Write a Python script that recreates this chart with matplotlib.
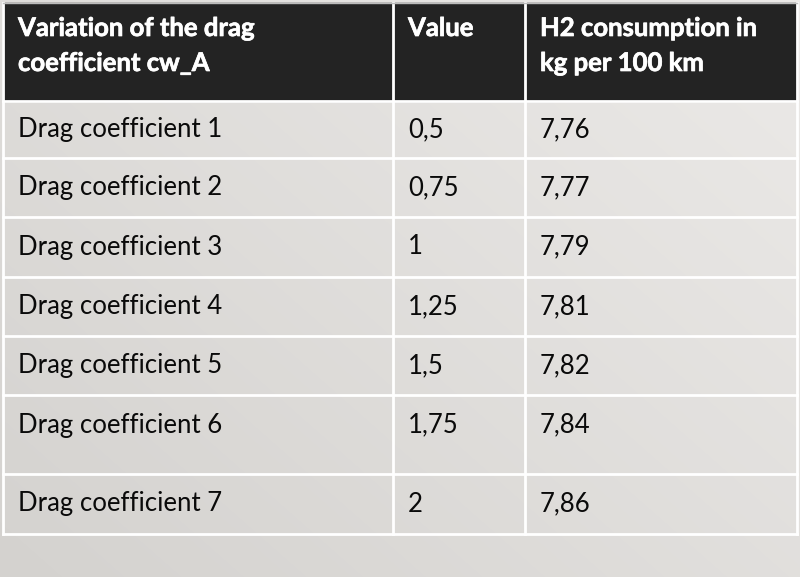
import matplotlib

matplotlib.use("Agg")

import matplotlib.pyplot as plt
import matplotlib.patheffects as pe
import numpy as np
from matplotlib.colors import LinearSegmentedColormap

# table content
headers = ["Variation of the drag\ncoefficient cw_A", "Value", "H2 consumption in\nkg per 100 km"]
labels = [f"Drag coefficient {i}" for i in range(1, 8)]
values = ["0,5", "0,75", "1", "1,25", "1,5", "1,75", "2"]
consumption = ["7,76", "7,77", "7,79", "7,81", "7,82", "7,84", "7,86"]

# layout in pixels
col_edges = [3, 393, 525, 797]
row_edges = [3, 101, 158, 217, 277, 336, 395, 474, 534]
text_pad = 15

W, H = 800, 577
plt.rcParams["font.family"] = ["Lato", "DejaVu Sans"]

fig = plt.figure(figsize=(W / 100, H / 100), dpi=100)
ax = fig.add_axes([0, 0, 1, 1])
ax.set_xlim(0, W)
ax.set_ylim(H, 0)
ax.axis("off")

# soft diagonal warm-grey gradient behind everything
bg = LinearSegmentedColormap.from_list("bg", ["#d4d2cf", "#eceae8"])
yy, xx = np.mgrid[0:H, 0:W]
t = (xx / W) * 0.55 + (1 - yy / H) * 0.45
ax.imshow(t, cmap=bg, vmin=0, vmax=1, extent=(0, W, H, 0), zorder=0)

# header band
ax.add_patch(plt.Rectangle((col_edges[0], row_edges[0]), col_edges[-1] - col_edges[0],
                           row_edges[1] - row_edges[0], color="#232323", zorder=1))

# header text (thin stroke to mimic the heavier bold of the original)
for j, h in enumerate(headers):
    ax.text(col_edges[j] + text_pad, 16, h, color="white", fontsize=18.5,
            fontweight="bold", va="top", ha="left", linespacing=1.55, zorder=3,
            path_effects=[pe.withStroke(linewidth=0.5, foreground="white")])

# body text
for i in range(len(labels)):
    top = row_edges[i + 1]
    if i == 5:
        y = top + 30
    else:
        y = (top + row_edges[i + 2]) / 2
    for j, s in enumerate([labels[i], values[i], consumption[i]]):
        ax.text(col_edges[j] + text_pad, y, s, color="#0a0a0a", fontsize=18.5,
                va="center", ha="left", zorder=3)

# white grid lines
for x in col_edges:
    ax.plot([x, x], [row_edges[0], row_edges[-1]], color="white", lw=2, zorder=2)
for y in row_edges[1:]:
    ax.plot([col_edges[0], col_edges[-1]], [y, y], color="white", lw=2, zorder=2)
ax.plot([col_edges[0], col_edges[-1]], [row_edges[0], row_edges[0]], color="#bbbbbb", lw=1, zorder=2)

fig.savefig("out.png", dpi=100)
